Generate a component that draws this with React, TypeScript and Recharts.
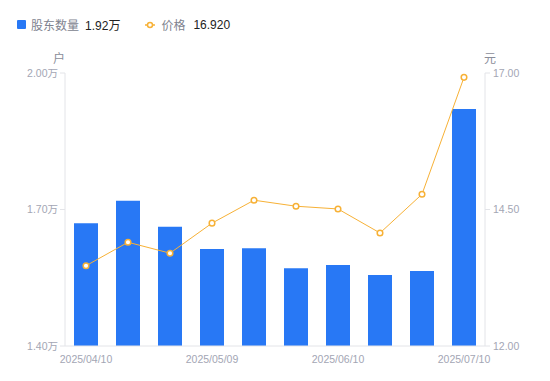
import { Bar, ComposedChart, Line, XAxis, YAxis } from "recharts";

const dates = [
  "2025/04/10",
  "2025/04/18",
  "2025/04/30",
  "2025/05/09",
  "2025/05/20",
  "2025/05/30",
  "2025/06/10",
  "2025/06/20",
  "2025/06/30",
  "2025/07/10",
];
const holders = [1.67, 1.719, 1.662, 1.613, 1.615, 1.571, 1.578, 1.556, 1.565, 1.921];
const prices = [13.47, 13.9, 13.7, 14.25, 14.67, 14.56, 14.51, 14.07, 14.78, 16.92];
const leftTicks = [1.4, 1.7, 2.0];
const rightTicks = [12, 14.5, 17];

const data = dates.map((d, i) => ({ date: d, holders: holders[i], price: prices[i] }));

const BLUE = "#2878f5";
const ORANGE = "#f7b136";
const FONT = "Arial, 'Liberation Sans', 'Noto Sans CJK SC', sans-serif";
const tickStyle = { fill: "#a3a6b4", fontSize: 10.5, fontFamily: FONT };

function TopLegend() {
  return (
    <div
      style={{
        position: "absolute",
        left: 17,
        top: 16,
        display: "flex",
        alignItems: "center",
        fontSize: 12,
        fontFamily: FONT,
        color: "#80838f",
      }}
    >
      <span style={{ width: 9, height: 9, background: BLUE, borderRadius: 1, marginRight: 5 }} />
      <span>股东数量</span>
      <span style={{ color: "#222", marginLeft: 6 }}>{holders[holders.length - 1].toFixed(2)}万</span>
      <svg width={10} height={8} style={{ marginLeft: 25, marginRight: 6 }}>
        <line x1={0} y1={4} x2={10} y2={4} stroke={ORANGE} strokeWidth={1.5} />
        <circle cx={5} cy={4} r={2.5} fill="#fff" stroke={ORANGE} strokeWidth={1.5} />
      </svg>
      <span>价格</span>
      <span style={{ color: "#222", marginLeft: 8 }}>{prices[prices.length - 1].toFixed(3)}</span>
    </div>
  );
}

export default function App() {
  return (
    <div style={{ position: "absolute", left: 0, top: 0, width: 550, height: 381, background: "#fff" }}>
      <TopLegend />
      <div style={{ position: "absolute", left: 53, top: 49, fontSize: 12, color: "#8a8d99", fontFamily: FONT }}>户</div>
      <div style={{ position: "absolute", left: 484, top: 49, fontSize: 12, color: "#8a8d99", fontFamily: FONT }}>元</div>
      <ComposedChart
        width={550}
        height={381}
        data={data}
        margin={{ top: 73, right: 0, bottom: 0, left: 0 }}
        barCategoryGap={0}
      >
        <XAxis
          dataKey="date"
          interval={2}
          tickLine={false}
          axisLine={{ stroke: "#e3e4e8" }}
          tick={tickStyle}
          tickMargin={4}
          height={35}
        />
        <YAxis
          yAxisId="left"
          orientation="left"
          domain={[1.4, 2.0]}
          ticks={leftTicks}
          width={65}
          tick={tickStyle}
          tickLine={{ stroke: "#e3e4e8" }}
          tickSize={5}
          tickMargin={2}
          axisLine={{ stroke: "#e3e4e8" }}
          tickFormatter={(v: number) => `${v.toFixed(2)}万`}
        />
        <YAxis
          yAxisId="right"
          orientation="right"
          domain={[12, 17]}
          ticks={rightTicks}
          width={65}
          tick={tickStyle}
          tickLine={{ stroke: "#e3e4e8" }}
          tickSize={5}
          tickMargin={3}
          axisLine={{ stroke: "#e3e4e8" }}
          tickFormatter={(v: number) => v.toFixed(2)}
        />
        <Bar yAxisId="left" dataKey="holders" fill={BLUE} barSize={24} isAnimationActive={false} />
        <Line
          yAxisId="right"
          dataKey="price"
          type="linear"
          stroke={ORANGE}
          strokeWidth={1}
          dot={{ r: 2.8, fill: "#fff", stroke: ORANGE, strokeWidth: 1.5 }}
          isAnimationActive={false}
        />
      </ComposedChart>
    </div>
  );
}
